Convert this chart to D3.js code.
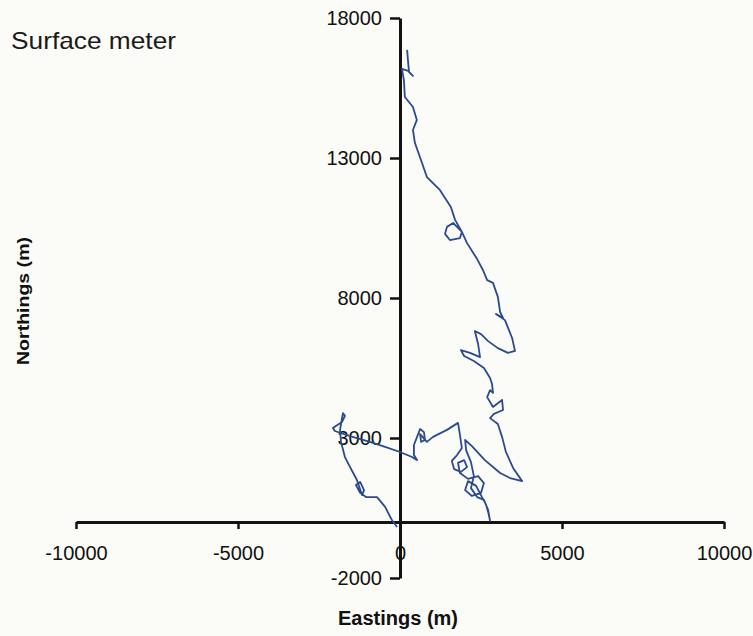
<!DOCTYPE html>
<html>
<head>
<meta charset="utf-8">
<script src="https://cdn.jsdelivr.net/npm/d3@7"></script>
<style>
    body { margin: 0; background: #fbfbf7; }
    svg { display: block; }
    .axis path, .axis line { stroke: #121212; }
    .axis text { font-family: "Liberation Sans", Arial, sans-serif; font-size: 20px; fill: #111; }
    .lbl { font-family: "Liberation Sans", Arial, sans-serif; font-weight: bold; fill: #111; }
</style>
</head>
<body>
<svg id="chart" width="753" height="636"></svg>
<script>
// track of the surface meter, eastings / northings in metres
let eastings = [-90, -250, -460, -710, -1050, -1230, -1360, -1230, -1110, -1170, -1330, -1540, -1700, -1820,
    -1850, -1790, -1760, -1700, -1790, -1980, -2070, -2010, -1540, -930, -460, 0, 370, 530, 430, 430, 560, 620,
    740, 770, 650, 620, 830, 1020, 1450, 1790,
    1850, 1910, 1760, 1600, 1670, 1880, 2070, 1980, 1790, 1850, 2100, 2410, 2590, 2500, 2220, 2010, 2100, 2350,
    2530, 2650, 2720, 2780, 2720, 2590, 2380, 2190, 2280, 2190, 2040, 2010,
    2220, 2620, 3090, 3400, 3770, 3490, 3270, 3150, 3020, 2780, 2900, 3180, 3150, 2870, 2690, 2780, 2870, 2840,
    2780, 2590, 2280, 1980, 1880, 2160, 2470, 2410, 2310, 2500, 2720, 3020, 3330, 3550, 3460, 3240, 2960, 3180,
    3090, 3020, 2870, 2690, 2560, 2380, 2070, 1910, 1640, 1450, 1390, 1540, 1850, 1910, 1700, 1570, 1450, 1230,
    830, 680, 460, 400, 520, 400, 150, 120, 60, 250, 400, 280, 250, 220]
let northings = [-180, 70, 540, 890, 890, 1040, 1320, 1430, 1140, 960, 1500, 1960, 2320, 2860,
    3290, 3710, 3890, 3790, 3570, 3430, 3360, 3250, 3070, 2860, 2680, 2500, 2320, 2210, 2390, 2750, 3140, 3320,
    3210, 2930, 2860, 3140, 2860, 3040, 3290, 3540,
    3110, 2640, 2390, 2180, 1890, 1790, 1960, 2210, 2110, 1750, 1540, 1640, 1390, 1040, 930, 1140, 1460, 1290,
    890, 640, 360, 40, 430, 790, 890, 1210, 1640, 2140, 2570, 2930,
    2710, 2210, 1750, 1570, 1460, 1930, 2500, 3040, 3500, 3710, 3860, 4000, 4360, 4110, 4460, 4710, 4610, 4930,
    5140, 5500, 5750, 5930, 6140, 6040, 5890, 6360, 6820, 6710, 6460, 6210, 6040, 6110, 6570, 7210, 7430, 7290,
    7500, 8040, 8540, 8640, 9000, 9390, 9960, 10360, 10680, 10540, 10290, 10070, 10140, 10360, 10790, 11250, 11460, 11860,
    12320, 12820, 13540, 14000, 14360, 14820, 15180, 15790, 16180, 16110, 15930, 16070, 16430, 16860]

let xTicks = [-10000, -5000, 0, 5000, 10000]
let yTicks = [18000, 13000, 8000, 3000, -2000]

let svg = d3.select("#chart")

let x = d3.scaleLinear().domain([-10000, 10000]).range([76, 724])
let y = d3.scaleLinear().domain([-2000, 18000]).range([578, 18])

// plain labels, ascii minus, no thousands comma
let fmt = d => String(d)

// x axis sits on northing 0, y axis on easting 0
let xAxis = svg.append("g")
    .attr("class", "axis")
    .attr("transform", "translate(0," + y(0) + ")")
    .call(d3.axisBottom(x).tickValues(xTicks).tickFormat(fmt).tickSize(7).tickSizeOuter(0).tickPadding(17))
xAxis.select(".domain").attr("stroke-width", 3)
xAxis.selectAll(".tick line").attr("stroke-width", 2.5)
    .filter(d => d === 0).remove()

let yAxis = svg.append("g")
    .attr("class", "axis")
    .attr("transform", "translate(" + x(0) + ",0)")
    .call(d3.axisLeft(y).tickValues(yTicks).tickFormat(fmt).tickSize(10).tickSizeOuter(0).tickPadding(8))
yAxis.select(".domain").attr("stroke-width", 3)
yAxis.selectAll(".tick line").attr("stroke-width", 2.5)

let pts = eastings.map((e, i) => [e, northings[i]])
let line = d3.line().x(d => x(d[0])).y(d => y(d[1]))

svg.append("path")
    .datum(pts)
    .attr("fill", "none")
    .attr("stroke", "#2c4a92")
    .attr("stroke-width", 1.8)
    .attr("stroke-linejoin", "round")
    .attr("d", line)

svg.append("text")
    .attr("x", 11).attr("y", 49)
    .attr("font-family", "Liberation Sans, Arial, sans-serif")
    .attr("font-size", 24)
    .attr("fill", "#1a1a1a")
    .attr("textLength", 165)
    .attr("lengthAdjust", "spacingAndGlyphs")
    .text("Surface meter")

svg.append("text")
    .attr("class", "lbl")
    .attr("x", 398).attr("y", 625)
    .attr("text-anchor", "middle")
    .attr("font-size", 20)
    .text("Eastings (m)")

svg.append("text")
    .attr("class", "lbl")
    .attr("transform", "translate(29,301) rotate(-90)")
    .attr("text-anchor", "middle")
    .attr("font-size", 17)
    .attr("textLength", 128)
    .attr("lengthAdjust", "spacingAndGlyphs")
    .text("Northings (m)")
</script>
</body>
</html>
